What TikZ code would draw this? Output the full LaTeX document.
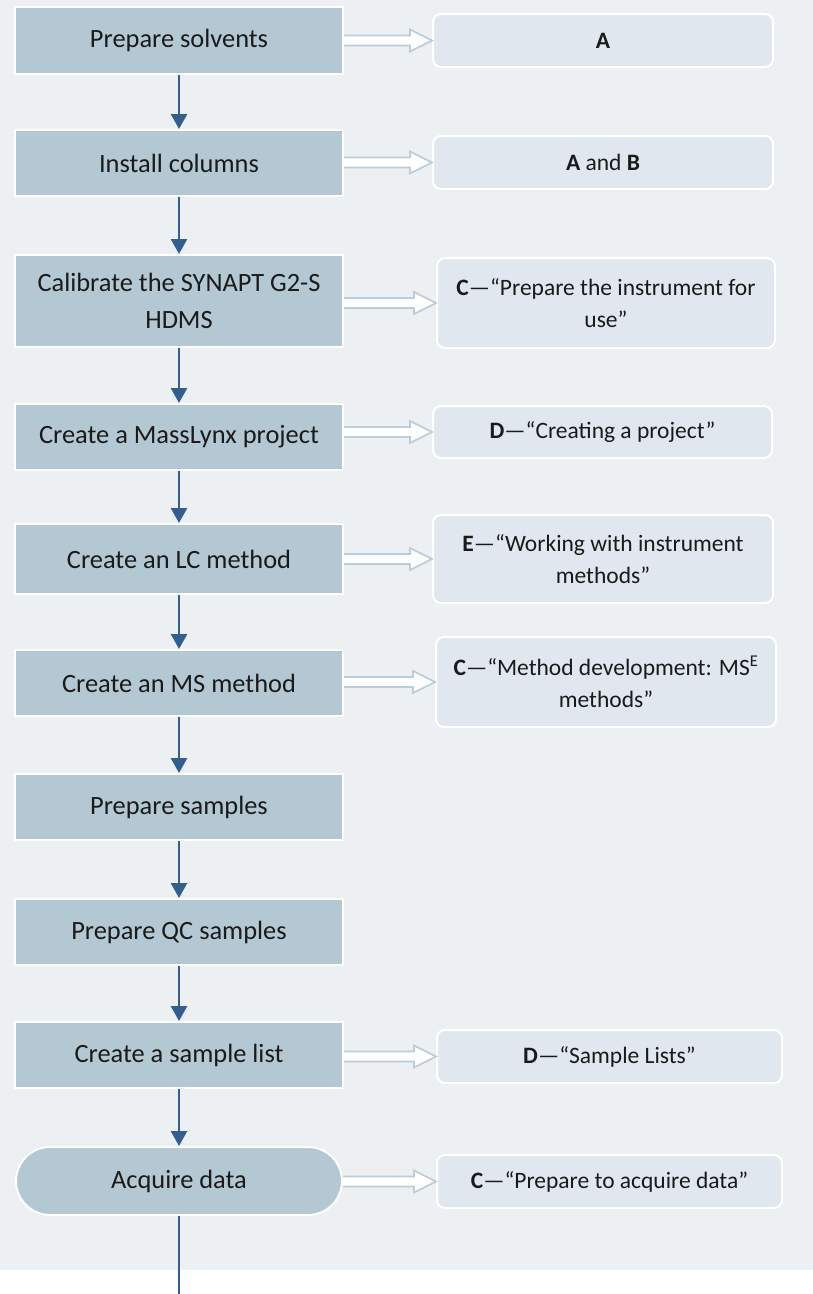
\documentclass[tikz,border=0pt]{standalone}
\usepackage{fontspec}
\setmainfont{Carlito}
\usetikzlibrary{arrows.meta,calc}
\definecolor{bgc}{HTML}{ECF0F3}
\definecolor{stepfill}{HTML}{B4C8D3}
\definecolor{reffill}{HTML}{E0E7EE}
\definecolor{hollowc}{HTML}{BCCCD8}
\definecolor{flowc}{HTML}{335E90}
\definecolor{txtc}{HTML}{1A1A1A}
\tikzset{
  stepbox/.style={rectangle, fill=stepfill, draw=white, line width=2pt,
    text=txtc, font=\fontsize{26.4}{37}\selectfont, align=center, inner sep=0pt},
  refbox/.style={rectangle, rounded corners=8pt, fill=reffill, draw=white, line width=2pt,
    text=txtc, font=\fontsize{23.5}{32}\selectfont, align=center, inner sep=0pt},
  flowline/.style={draw=flowc, line width=2.5pt},
  flowarrow/.style={flowline, -{Triangle[width=16pt,length=15pt]}},
  hollowfill/.style={fill=white},
  hollowline/.style={draw=hollowc, line width=1.6pt, line join=miter},
}
\newcommand\hollowarrow[2]{%
  \fill[hollowfill] let \p1=(#1.east), \p2=(#2.west) in
    (\x1,\y2+5pt) -- (\x2-22pt,\y2+5pt) -- (\x2-22pt,\y2+11pt) -- (\x2,\y2)
    -- (\x2-22pt,\y2-11pt) -- (\x2-22pt,\y2-5pt) -- (\x1,\y2-5pt) -- cycle;
  \draw[hollowline] let \p1=(#1.east), \p2=(#2.west) in
    (\x1,\y2+5pt) -- (\x2-22pt,\y2+5pt) -- (\x2-22pt,\y2+11pt) -- (\x2,\y2)
    -- (\x2-22pt,\y2-11pt) -- (\x2-22pt,\y2-5pt) -- (\x1,\y2-5pt);
}
\begin{document}
\begin{tikzpicture}[x=1pt,y=-1pt]
\useasboundingbox (0,0) rectangle (813,1294);
\fill[bgc] (0,0) rectangle (813,1270);

% left steps
\node[stepbox, minimum width=328pt, minimum height=67pt] (s1) at (179,40.5) {Prepare solvents};
\node[stepbox, minimum width=328pt, minimum height=66pt] (s2) at (179,163) {Install columns};
\node[stepbox, minimum width=328pt, minimum height=92pt] (s3) at (179,301) {Calibrate the SYNAPT G2-S\\HDMS};
\node[stepbox, minimum width=328pt, minimum height=66pt] (s4) at (179,437) {Create a MassLynx project};
\node[stepbox, minimum width=328pt, minimum height=70pt] (s5) at (179,559) {Create an LC method};
\node[stepbox, minimum width=328pt, minimum height=66pt] (s6) at (179,683) {Create an MS method};
\node[stepbox, minimum width=328pt, minimum height=66pt] (s7) at (179,807) {Prepare samples};
\node[stepbox, minimum width=328pt, minimum height=66pt] (s8) at (179,932) {Prepare QC samples};
\node[stepbox, minimum width=328pt, minimum height=66pt] (s9) at (179,1055) {Create a sample list};
\node[stepbox, rounded corners=34pt, minimum width=326pt, minimum height=68pt] (s10) at (179,1181) {Acquire data};
\coordinate (end) at (179,1294);

% reference boxes
\node[refbox, minimum width=340pt, minimum height=53pt] (r1) at (603,40.5) {\textbf{A}};
\node[refbox, minimum width=340pt, minimum height=53pt] (r2) at (603,162.5) {\textbf{A} and \textbf{B}};
\node[refbox, minimum width=338pt, minimum height=90pt] (r3) at (606,303) {\textbf{C}—“Prepare the instrument for\\use”};
\node[refbox, minimum width=339pt, minimum height=52pt] (r4) at (602.5,432) {\textbf{D}—“Creating a project”};
\node[refbox, minimum width=340pt, minimum height=88pt] (r5) at (603,559) {\textbf{E}—“Working with instrument\\methods”};
\node[refbox, minimum width=340pt, minimum height=90pt] (r6) at (606,682) {\textbf{C}—“Method development: MS\textsuperscript{E}\\methods”};
\node[refbox, minimum width=345pt, minimum height=53pt] (r9) at (609.5,1056.5) {\textbf{D}—“Sample Lists”};
\node[refbox, minimum width=345pt, minimum height=53pt] (r10) at (609.5,1181.5) {\textbf{C}—“Prepare to acquire data”};

% flow arrows
\draw[flowarrow] (s1.south) -- (s2.north);
\draw[flowarrow] (s2.south) -- (s3.north);
\draw[flowarrow] (s3.south) -- (s4.north);
\draw[flowarrow] (s4.south) -- (s5.north);
\draw[flowarrow] (s5.south) -- (s6.north);
\draw[flowarrow] (s6.south) -- (s7.north);
\draw[flowarrow] (s7.south) -- (s8.north);
\draw[flowarrow] (s8.south) -- (s9.north);
\draw[flowarrow] (s9.south) -- (s10.north);
\draw[flowline] (s10.south) -- (end);

% hollow arrows
\hollowarrow{s1}{r1}
\hollowarrow{s2}{r2}
\hollowarrow{s3}{r3}
\hollowarrow{s4}{r4}
\hollowarrow{s5}{r5}
\hollowarrow{s6}{r6}
\hollowarrow{s9}{r9}
\hollowarrow{s10}{r10}
\end{tikzpicture}
\end{document}
